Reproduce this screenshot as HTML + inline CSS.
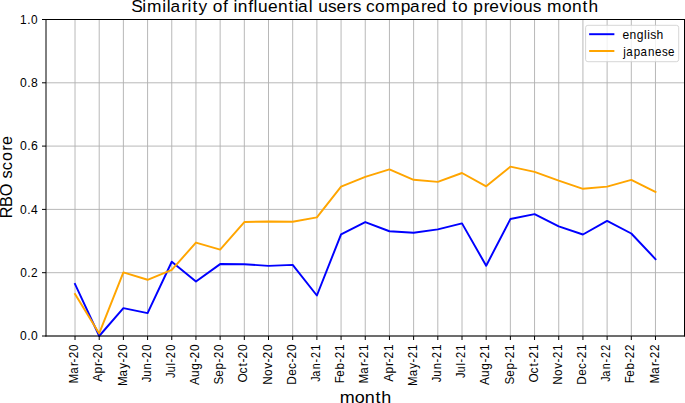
<!DOCTYPE html>
<html><head><meta charset="utf-8"><title>Similarity of influential users compared to previous month</title>
<style>
html,body{margin:0;padding:0;background:#fff;}
body{width:685px;height:403px;overflow:hidden;}
svg{display:block;}
text{font-family:"Liberation Sans",sans-serif;fill:#000;}
</style></head><body>
<svg width="685" height="403" viewBox="0 0 685 403">
<rect width="685" height="403" fill="#fff"/>
<path d="M75.02 19.5V336M99.21 19.5V336M123.39 19.5V336M147.58 19.5V336M171.76 19.5V336M195.95 19.5V336M220.14 19.5V336M244.32 19.5V336M268.51 19.5V336M292.69 19.5V336M316.88 19.5V336M341.07 19.5V336M365.25 19.5V336M389.44 19.5V336M413.62 19.5V336M437.81 19.5V336M462 19.5V336M486.18 19.5V336M510.37 19.5V336M534.55 19.5V336M558.74 19.5V336M582.93 19.5V336M607.11 19.5V336M631.3 19.5V336M655.48 19.5V336M46 336H684.5M46 272.7H684.5M46 209.4H684.5M46 146.1H684.5M46 82.8H684.5M46 19.5H684.5" stroke="#b0b0b0" stroke-width="0.9" fill="none"/>
<polyline points="75.02,284.09 99.21,336 123.39,308.15 147.58,313.12 171.76,261.72 195.95,281.56 220.14,264.09 244.32,264.22 268.51,265.9 292.69,264.88 316.88,295.49 341.07,234.31 365.25,222.06 389.44,231.24 413.62,232.82 437.81,229.4 462,223.39 486.18,265.74 510.37,219.08 534.55,214.15 558.74,226.4 582.93,234.5 607.11,220.89 631.3,233.49 655.48,259.09" fill="none" stroke="#0000ff" stroke-width="1.95" stroke-linejoin="round" stroke-linecap="square"/>
<polyline points="75.02,294.06 99.21,333.47 123.39,272.38 147.58,279.79 171.76,269.85 195.95,242.6 220.14,249.6 244.32,222.06 268.51,221.43 292.69,221.74 316.88,217.41 341.07,186.61 365.25,176.9 389.44,169.39 413.62,179.81 437.81,181.86 462,173 486.18,186.3 510.37,166.67 534.55,171.89 558.74,180.69 582.93,188.83 607.11,186.61 631.3,179.9 655.48,191.99" fill="none" stroke="#ffa500" stroke-width="1.95" stroke-linejoin="round" stroke-linecap="square"/>
<path d="M46 336V19.5M684.5 336V19.5M46 19.5H684.5M46 336H684.5" stroke="#000" stroke-width="1.0" fill="none" stroke-linecap="square"/>
<path d="M75.02 336v4.0M99.21 336v4.0M123.39 336v4.0M147.58 336v4.0M171.76 336v4.0M195.95 336v4.0M220.14 336v4.0M244.32 336v4.0M268.51 336v4.0M292.69 336v4.0M316.88 336v4.0M341.07 336v4.0M365.25 336v4.0M389.44 336v4.0M413.62 336v4.0M437.81 336v4.0M462 336v4.0M486.18 336v4.0M510.37 336v4.0M534.55 336v4.0M558.74 336v4.0M582.93 336v4.0M607.11 336v4.0M631.3 336v4.0M655.48 336v4.0M46 336h-4.0M46 272.7h-4.0M46 209.4h-4.0M46 146.1h-4.0M46 82.8h-4.0M46 19.5h-4.0" stroke="#000" stroke-width="1.0" fill="none"/>
<rect x="585.6" y="25.3" width="93.10" height="36.40" rx="2.3" fill="#fff" fill-opacity="0.8" stroke="#cccccc" stroke-opacity="0.8" stroke-width="1.0"/>
<path d="M590.1 34.2H613.4" stroke="#0000ff" stroke-width="1.95" stroke-linecap="square"/>
<path d="M590.1 51.0H613.4" stroke="#ffa500" stroke-width="1.95" stroke-linecap="square"/>
<g>
<text transform="translate(78.17 383.50) rotate(-90) scale(0.9638 1)" x="0.05 10.04 18.15 21.73 26.13 33.83" font-size="12.17">Mar-20</text>
<text transform="translate(102.36 381.71) rotate(-90) scale(1.0007 1)" x="-0.16 8.12 15.60 19.07 23.25 30.67" font-size="12.17">Apr-20</text>
<text transform="translate(126.54 386.10) rotate(-90) scale(0.9505 1)" x="0.12 10.23 18.26 24.79 29.27 37.08" font-size="12.17">May-20</text>
<text transform="translate(150.73 380.53) rotate(-90) scale(0.9224 1)" x="-1.79 4.17 12.08 19.57 24.22 32.27" font-size="12.17">Jun-20</text>
<text transform="translate(174.91 376.46) rotate(-90) scale(0.9057 1)" x="-1.77 4.31 12.12 15.48 20.24 28.44" font-size="12.17">Jul-20</text>
<text transform="translate(199.10 384.99) rotate(-90) scale(0.9837 1)" x="-0.09 8.22 15.54 22.76 27.04 34.58" font-size="12.17">Aug-20</text>
<text transform="translate(223.29 384.21) rotate(-90) scale(0.9625 1)" x="-0.23 7.83 15.31 22.50 26.90 34.61" font-size="12.17">Sep-20</text>
<text transform="translate(247.47 382.43) rotate(-90) scale(0.9875 1)" x="-0.18 9.11 16.02 20.07 24.33 31.85" font-size="12.17">Oct-20</text>
<text transform="translate(271.66 384.68) rotate(-90) scale(0.9786 1)" x="-0.03 8.93 16.30 22.57 26.88 34.46" font-size="12.17">Nov-20</text>
<text transform="translate(295.84 384.79) rotate(-90) scale(0.9782 1)" x="0.12 9.23 16.22 22.69 27.00 34.59" font-size="12.17">Dec-20</text>
<text transform="translate(320.03 380.29) rotate(-90) scale(0.8818 1)" x="-1.75 3.95 12.52 20.29 25.22 33.59" font-size="12.17">Jan-21</text>
<text transform="translate(344.22 382.90) rotate(-90) scale(0.9525 1)" x="-0.28 6.57 14.13 21.38 25.84 33.58" font-size="12.17">Feb-21</text>
<text transform="translate(368.40 383.50) rotate(-90) scale(0.9558 1)" x="0.09 10.15 18.32 21.93 26.37 34.08" font-size="12.17">Mar-21</text>
<text transform="translate(392.59 381.71) rotate(-90) scale(0.9932 1)" x="-0.13 8.21 15.74 19.23 23.45 30.86" font-size="12.17">Apr-21</text>
<text transform="translate(416.77 386.10) rotate(-90) scale(0.9430 1)" x="0.16 10.34 18.42 25.01 29.53 37.34" font-size="12.17">May-21</text>
<text transform="translate(440.96 380.53) rotate(-90) scale(0.9130 1)" x="-1.78 4.25 12.24 19.79 24.51 32.58" font-size="12.17">Jun-21</text>
<text transform="translate(465.15 376.46) rotate(-90) scale(0.8944 1)" x="-1.76 4.41 12.29 15.70 20.54 28.79" font-size="12.17">Jul-21</text>
<text transform="translate(489.33 384.99) rotate(-90) scale(0.9764 1)" x="-0.06 8.31 15.68 22.94 27.26 34.80" font-size="12.17">Aug-21</text>
<text transform="translate(513.52 384.21) rotate(-90) scale(0.9547 1)" x="-0.20 7.92 15.46 22.70 27.15 34.86" font-size="12.17">Sep-21</text>
<text transform="translate(537.70 382.43) rotate(-90) scale(0.9798 1)" x="-0.14 9.21 16.16 20.25 24.55 32.06" font-size="12.17">Oct-21</text>
<text transform="translate(561.89 384.68) rotate(-90) scale(0.9712 1)" x="0.00 9.02 16.44 22.76 27.11 34.69" font-size="12.17">Nov-21</text>
<text transform="translate(586.08 384.79) rotate(-90) scale(0.9707 1)" x="0.16 9.33 16.37 22.88 27.24 34.82" font-size="12.17">Dec-21</text>
<text transform="translate(610.26 380.29) rotate(-90) scale(0.8840 1)" x="-1.75 3.93 12.48 20.24 25.15 33.38" font-size="12.17">Jan-22</text>
<text transform="translate(634.45 382.90) rotate(-90) scale(0.9539 1)" x="-0.29 6.56 14.10 21.35 25.80 33.42" font-size="12.17">Feb-22</text>
<text transform="translate(658.63 383.50) rotate(-90) scale(0.9572 1)" x="0.08 10.13 18.29 21.90 26.33 33.93" font-size="12.17">Mar-22</text>
<text transform="translate(19.82 340.10) scale(0.9923 1)" x="0.28 7.46 11.27" font-size="12.17">0.0</text>
<text transform="translate(19.82 276.80) scale(0.9763 1)" x="0.34 7.61 11.35" font-size="12.17">0.2</text>
<text transform="translate(19.82 213.50) scale(0.9922 1)" x="0.28 7.46 11.27" font-size="12.17">0.4</text>
<text transform="translate(19.82 150.20) scale(1.0077 1)" x="0.22 7.32 11.04" font-size="12.17">0.6</text>
<text transform="translate(19.82 86.90) scale(0.9971 1)" x="0.26 7.42 11.20" font-size="12.17">0.8</text>
<text transform="translate(19.82 23.60) scale(0.9733 1)" x="0.29 7.64 11.55" font-size="12.17">1.0</text>
<text transform="translate(622.27 39.10) scale(1.0100 1)" x="0.18 7.25 14.34 21.56 24.71 27.65 33.77" font-size="11.94">english</text>
<text transform="translate(623.11 55.50) scale(0.9708 1)" x="0.20 3.12 10.98 17.81 25.61 32.96 40.04 46.34" font-size="11.94">japanese</text>
<text transform="translate(131.85 12.10) scale(1.0362 1)" x="-0.59 10.10 14.69 29.43 33.71 37.20 47.85 53.82 58.48 64.25 73.01 77.99 87.95 92.80 98.00 102.27 112.37 117.50 121.72 131.43 141.07 151.24 156.93 160.41 170.67 174.68 179.80 189.32 197.55 207.59 213.22 221.31 226.09 234.78 244.75 259.54 268.49 279.13 284.59 294.12 303.76 309.33 314.80 324.17 329.42 339.55 345.01 354.77 363.81 367.89 377.47 387.00 395.09 400.59 415.11 424.76 434.93 440.58" font-size="16.72">Similarity of influential users compared to previous month</text>
<text transform="translate(339.39 403.00) scale(1.0760 1)" x="0.32 14.39 23.68 33.55 38.91" font-size="16.72">month</text>
<text transform="translate(11.90 218.10) rotate(-90) scale(0.9566 1)" x="-0.07 11.66 22.76 35.97 41.50 50.14 59.58 70.36 76.37" font-size="17.04">RBO score</text>
</g>
</svg>
</body></html>
